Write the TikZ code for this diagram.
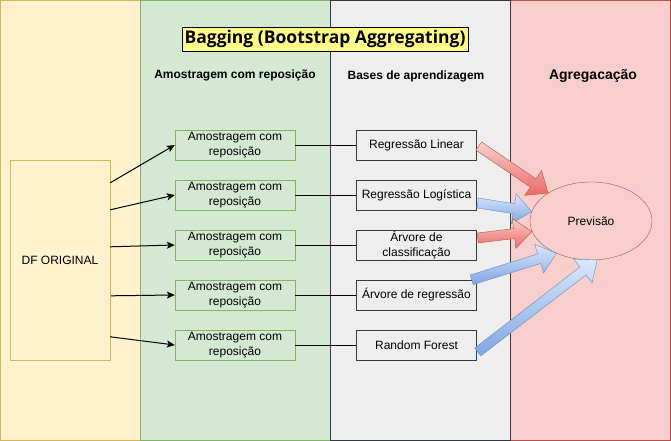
\documentclass[tikz,border=0pt]{standalone}
\usepackage{fontspec}
\setmainfont{Liberation Sans}
\newfontfamily\titlefont{Open Sans}
\usepackage{xcolor}
\usepackage{tikz}
\usetikzlibrary{calc,arrows.meta,positioning,shapes.geometric}
\definecolor{yelfill}{HTML}{FFF2CC}
\definecolor{yelline}{HTML}{D6B656}
\definecolor{greenfill}{HTML}{D5E8D4}
\definecolor{greenline}{HTML}{82B366}
\definecolor{grayfill}{HTML}{EEEEEE}
\definecolor{grayline}{HTML}{36393D}
\definecolor{redfill}{HTML}{F8CECC}
\definecolor{redline}{HTML}{B85450}
\definecolor{redgrad}{HTML}{EA6B66}
\definecolor{bluefill}{HTML}{DAE8FC}
\definecolor{blueline}{HTML}{6C8EBF}
\definecolor{bluegrad}{HTML}{7EA6E0}
\definecolor{titlefill}{HTML}{FFFF88}
\newcommand{\FlexArrow}[3]{%
    \coordinate (fh) at ($(#3)!18pt!(#2)$);
    \draw[#1] ($(#2)!5pt!90:(#3)$) -- ($(fh)!5pt!-90:(#2)$) -- ($(fh)!15pt!-90:(#2)$)
        -- (#3) -- ($(fh)!15pt!90:(#2)$) -- ($(fh)!5pt!90:(#2)$) -- ($(#2)!5pt!-90:(#3)$) -- cycle;
}

\begin{document}
\begin{tikzpicture}[x=1pt, y=-1pt, >={Stealth[length=8pt,width=7pt,inset=2pt]},
    txt/.style={font=\fontsize{12}{14.5}\selectfont, align=center},
    head/.style={font=\bfseries\fontsize{12}{14}\selectfont},
    amos/.style={txt, draw=greenline, fill=greenfill, minimum width=120pt, minimum height=30pt, inner sep=0pt},
    base/.style={txt, draw=grayline, fill=grayfill, minimum width=120pt, minimum height=30pt, inner sep=0pt},
    arr/.style={->, line width=1pt},
    flexred/.style={draw=redline, top color=redfill, bottom color=redgrad},
    flexblue/.style={draw=blueline, top color=bluefill, bottom color=bluegrad}]
    \def\RowStart{95}
    \def\RowGap{50}
    \useasboundingbox (0,0) rectangle (671,441);

    % columns
    \draw[draw=yelline, fill=yelfill] (0.5,0.5) rectangle (140,440);
    \draw[draw=greenline, fill=greenfill] (140,0.5) rectangle (330,440);
    \draw[draw=redline, fill=redfill] (510,0.5) rectangle (670.5,440);
    \draw[draw=grayline, fill=grayfill] (330,0.5) rectangle (510,440);

    \node[draw=black, fill=titlefill, font=\titlefont\bfseries\fontsize{17.5}{19}\selectfont,
        minimum width=286pt, minimum height=24pt, inner sep=0pt] (title) at (325,39) {Bagging (Bootstrap Aggregating)};
    \node[head] (hamos) at (235,75) {Amostragem com reposição};
    \node[head] (hbase) at (416,76) {Bases de aprendizagem};
    \node[font=\bfseries\fontsize{14}{16}\selectfont] (hagreg) at (593,76) {Agregacação};

    \node[txt, draw=yelline, fill=yelfill, minimum width=100pt, minimum height=200pt, inner sep=0pt] (df) at (60,260) {DF ORIGINAL};

    \foreach \i/\name in {1/Regressão Linear, 2/Regressão Logística, 3/{Árvore de\\classificação}, 4/Árvore de regressão, 5/Random Forest} {
        \node[amos] (a\i) at (235, \RowStart + \i * \RowGap) {Amostragem com\\reposição};
        \node[base] (b\i) at (416.5, \RowStart + \i * \RowGap) {\name};
        \draw (a\i.east) -- (b\i.west);
    }

    \node[txt, ellipse, draw=redline, fill=redfill, minimum width=122pt, minimum height=78pt, inner sep=0pt] (prev) at (591,221) {Previsão};

    \draw[arr] ($(df.north east)+(0,23)$) -- (a1.west);
    \draw[arr] ($(df.north east)+(0,50)$) -- (a2.west);
    \draw[arr] ($(df.north east)+(0,87)$) -- (a3.west);
    \draw[arr] ($(df.north east)+(1,136)$) -- (a4.west);
    \draw[arr] ($(df.north east)+(0,177)$) -- (a5.west);

    \coordinate (t1) at ($(b1.east)+(2,1)$);
    \coordinate (t2) at ($(b2.east)+(1,8)$);
    \coordinate (t3) at ($(b3.east)+(1,-7)$);
    \coordinate (t4) at ($(b4.north east)+(-5,0)$);
    \coordinate (t5) at ($(b5.east)+(1,7)$);

    \FlexArrow{flexred}{t1}{prev.147}
    \FlexArrow{flexblue}{t2}{prev.171}
    \FlexArrow{flexred}{t3}{prev.190}
    \FlexArrow{flexblue}{t4}{prev.223}
    \FlexArrow{flexblue}{t5}{prev.279}
\end{tikzpicture}
\end{document}
